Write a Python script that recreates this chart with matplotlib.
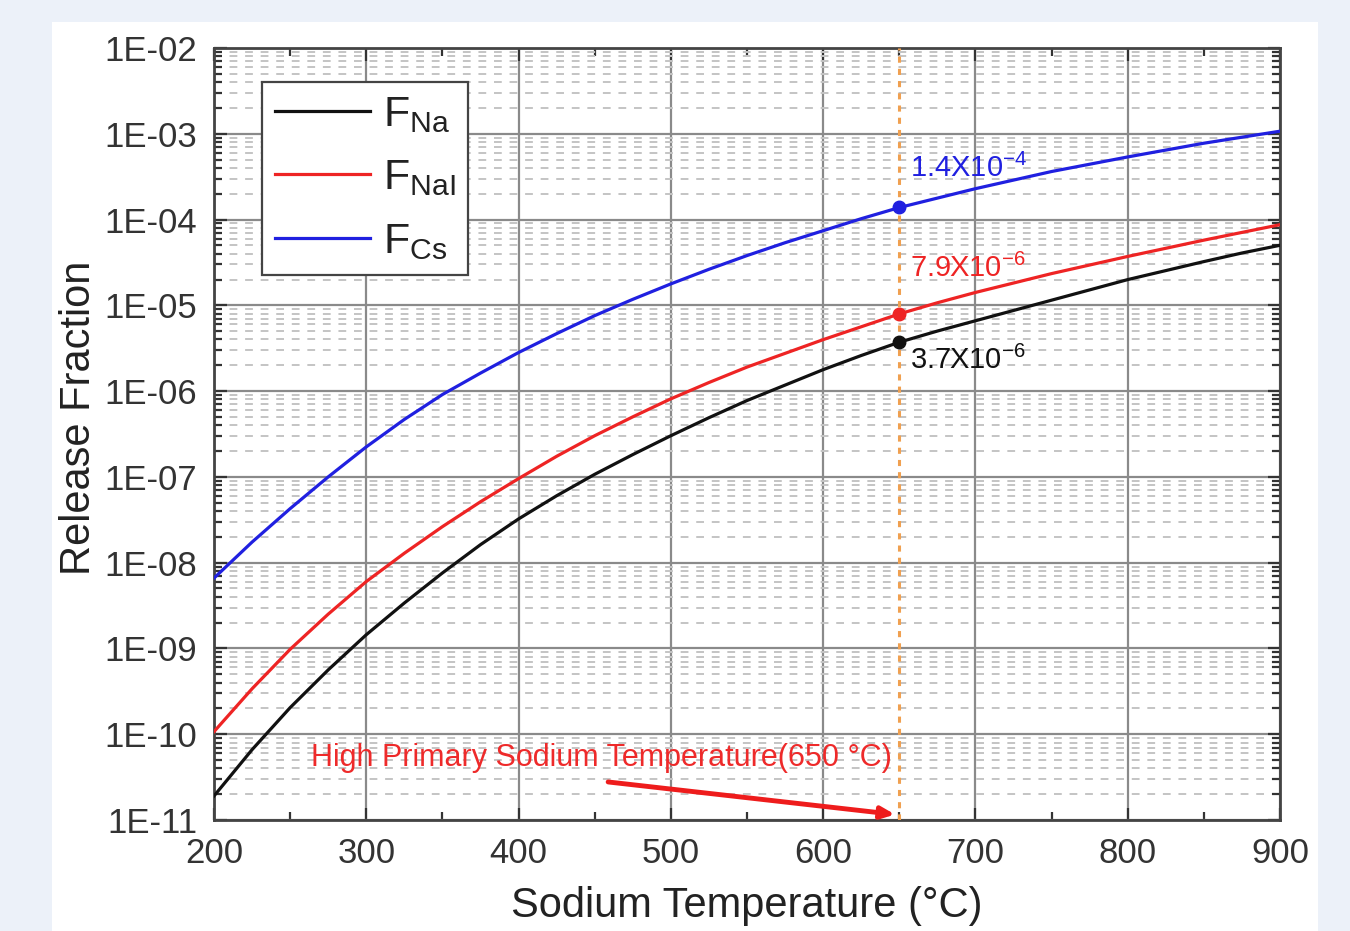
import math
import matplotlib
matplotlib.use("Agg")
import matplotlib.pyplot as plt
import numpy as np
from matplotlib.patches import Rectangle
from matplotlib.ticker import LogLocator, FixedLocator, FuncFormatter

plt.rcParams["font.family"] = ["Liberation Sans", "DejaVu Sans"]
plt.rcParams["mathtext.fontset"] = "custom"
plt.rcParams["mathtext.rm"] = "Liberation Sans"
plt.rcParams["mathtext.it"] = "Liberation Sans:italic"
plt.rcParams["mathtext.bf"] = "Liberation Sans:bold"

# exponents (log10 of release fraction) every 25 degC
temperature = list(range(200, 901, 25))
log_f_na = [-10.72, -10.18, -9.69, -9.25, -8.84, -8.47, -8.12, -7.79, -7.49, -7.22,
            -6.97, -6.74, -6.52, -6.31, -6.11, -5.93, -5.75, -5.585, -5.43, -5.30,
            -5.18, -5.06, -4.94, -4.82, -4.70, -4.595, -4.49, -4.39, -4.30]
log_f_nai = [-9.97, -9.47, -9.01, -8.60, -8.22, -7.89, -7.58, -7.29, -7.02, -6.76,
             -6.52, -6.30, -6.09, -5.90, -5.72, -5.56, -5.40, -5.25, -5.10, -4.97,
             -4.85, -4.74, -4.63, -4.53, -4.43, -4.335, -4.24, -4.15, -4.06]
log_f_cs = [-8.18, -7.76, -7.37, -7.00, -6.65, -6.33, -6.04, -5.79, -5.55, -5.33,
            -5.12, -4.93, -4.75, -4.58, -4.42, -4.27, -4.13, -3.99, -3.86, -3.75,
            -3.64, -3.54, -3.44, -3.355, -3.27, -3.19, -3.11, -3.04, -2.97]

mark_t = 650
mark_vals = [3.7e-6, 7.9e-6, 1.4e-4]
mark_labels = [r"3.7X10$^{\mathregular{-6}}$", r"7.9X10$^{\mathregular{-6}}$", r"1.4X10$^{\mathregular{-4}}$"]
mark_label_y = [2.3e-6, 2.7e-5, 4.0e-4]

c_na, c_nai, c_cs = "#111111", "#ee2424", "#2020e0"

fig = plt.figure(figsize=(13.5, 9.31), dpi=100)
fig.patch.set_facecolor("#ecf1f9")
fig.add_artist(Rectangle((52 / 1350, 0), 1266 / 1350, 909 / 931,
                         transform=fig.transFigure, facecolor="white", edgecolor="none", zorder=0))

ax = fig.add_axes([214 / 1350, 1 - 820 / 931, 1066 / 1350, 772 / 931])
ax.set_yscale("log")
ax.set_xlim(200, 900)
ax.set_ylim(1e-11, 1e-2)

ax.plot(temperature, np.power(10.0, log_f_na), color=c_na, lw=2.3, label=r"F$_{\mathregular{Na}}$", zorder=4)
ax.plot(temperature, np.power(10.0, log_f_nai), color=c_nai, lw=2.3, label=r"F$_{\mathregular{NaI}}$", zorder=4)
ax.plot(temperature, np.power(10.0, log_f_cs), color=c_cs, lw=2.3, label=r"F$_{\mathregular{Cs}}$", zorder=4)

ax.axvline(mark_t, color="#f0a050", lw=2.2, ls=(0, (2, 2)), zorder=3)
for v, c in zip(mark_vals, [c_na, c_nai, c_cs]):
    ax.plot(mark_t, v, "o", color=c, ms=9, zorder=5)
for lab, ly, c in zip(mark_labels, mark_label_y, [c_na, c_nai, c_cs]):
    ax.text(657, ly, lab, color=c, fontsize=21, va="center", ha="left", zorder=6)

ax.text(264, 5.3e-11, "High Primary Sodium Temperature(650 °C)", color="#ee2a2a",
        fontsize=22, va="center", ha="left", zorder=6)
ax.annotate("", xy=(649, 1.15e-11), xytext=(457, 2.8e-11),
            arrowprops=dict(arrowstyle="-|>,head_length=0.8,head_width=0.35",
                            color="#ee1c1c", lw=3.5), zorder=6)

# ticks and grid
ax.xaxis.set_major_locator(FixedLocator([200, 300, 400, 500, 600, 700, 800, 900]))
ax.xaxis.set_minor_locator(FixedLocator([250, 350, 450, 550, 650, 750, 850]))
ax.yaxis.set_major_locator(LogLocator(base=10, numticks=20))
ax.yaxis.set_minor_locator(LogLocator(base=10, subs=range(2, 10), numticks=20))
ax.yaxis.set_major_formatter(FuncFormatter(lambda v, p: "1E-%02d" % round(-math.log10(v))))

ax.grid(True, which="major", color="#8a8a8a", lw=1.6, zorder=1)
ax.grid(True, which="minor", axis="y", color="#c4c4c4", lw=1.4, ls=(0, (4, 4)), zorder=1)

ax.tick_params(which="both", direction="in", top=True, right=True, colors="#333333",
               labelsize=25, labelcolor="#333333")
ax.tick_params(which="major", length=9, width=1.6)
ax.tick_params(which="minor", length=6, width=1.6)
ax.tick_params(axis="y", pad=12)
ax.tick_params(axis="x", pad=12)
for s in ax.spines.values():
    s.set_color("#444444")
    s.set_linewidth(2)

ax.set_xlabel("Sodium Temperature (°C)", fontsize=30, color="#222222", labelpad=12)
ax.set_ylabel("Release Fraction", fontsize=30, color="#222222")
ax.yaxis.set_label_coords(-0.108, 0.521)

leg = ax.legend(loc="upper left", bbox_to_anchor=(0.045, 0.956), borderaxespad=0, fontsize=31,
                handlelength=2.2, handletextpad=0.3, labelspacing=0.55,
                borderpad=0.3, fancybox=False, framealpha=1, edgecolor="#444444")
leg.get_frame().set_linewidth(1.6)
for t in leg.get_texts():
    t.set_color("#222222")

fig.savefig("out.png", dpi=100, facecolor=fig.get_facecolor())
